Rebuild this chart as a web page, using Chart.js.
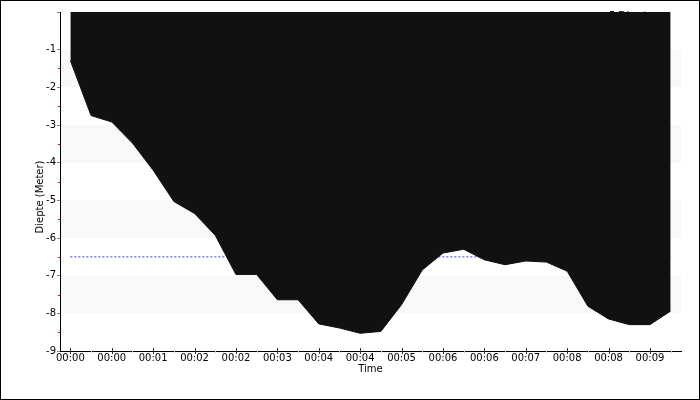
<!DOCTYPE html>
<html>
<head>
<meta charset="utf-8">
<script src="https://cdn.jsdelivr.net/npm/chart.js@4/dist/chart.umd.min.js"></script>
<style>
  html, body { margin: 0; padding: 0; background: #fff; }
  #wrap { width: 700px; height: 400px; }
</style>
</head>
<body>
<div id="wrap"><canvas id="depthChart" width="700" height="400"></canvas></div>
<script>
// samples every 20 s
const times = [
    '00:00:00', '00:00:20', '00:00:40', '00:01:00', '00:01:20', '00:01:40',
    '00:02:00', '00:02:20', '00:02:40', '00:03:00', '00:03:20', '00:03:40',
    '00:04:00', '00:04:20', '00:04:40', '00:05:00', '00:05:20', '00:05:40',
    '00:06:00', '00:06:20', '00:06:40', '00:07:00', '00:07:20', '00:07:40',
    '00:08:00', '00:08:20', '00:08:40', '00:09:00', '00:09:20', '00:09:40'
];
const depth = [
    -1.29, -2.75, -2.92, -3.48, -4.2, -5.03, -5.35, -5.93, -6.97, -6.97,
    -7.64, -7.64, -8.28, -8.39, -8.53, -8.48, -7.77, -6.85, -6.4, -6.3,
    -6.58, -6.71, -6.61, -6.64, -6.88, -7.81, -8.15, -8.3, -8.3, -7.94
];
const referenceDepth = -6.5;
const bandRanges = [[-2, -1], [-4, -3], [-6, -5], [-8, -7]];
const halfTicks = [-1.5, -2.5, -3.5, -4.5, -5.5, -6.5, -7.5, -8.5];

const FONT = 'DejaVu Sans';

// background bands, legend and y title behind the area
const backdrop = {
    id: 'backdrop',
    beforeDatasetsDraw(chart) {
        const { ctx, chartArea: a, scales: { y } } = chart;
        ctx.save();
        ctx.fillStyle = '#f8f8f8';
        bandRanges.forEach(([lo, hi]) => {
            const top = Math.round(y.getPixelForValue(hi));
            const bot = Math.round(y.getPixelForValue(lo));
            ctx.fillRect(a.left + 1, top, a.right - a.left - 1, bot - top);
        });
        // legend (mostly covered by the area)
        ctx.fillStyle = '#111';
        ctx.fillRect(610, 11, 4, 4);
        ctx.font = '11px ' + FONT;
        ctx.textBaseline = 'middle';
        ctx.fillStyle = '#000';
        ctx.fillText('Diepte', 618, 16);
        ctx.restore();
    },
    afterDraw(chart) {
        const { ctx, scales: { x, y } } = chart;
        ctx.save();
        // y title
        ctx.translate(40, 197);
        ctx.rotate(-Math.PI / 2);
        ctx.font = '10px ' + FONT;
        ctx.fillStyle = '#000';
        ctx.textAlign = 'center';
        ctx.textBaseline = 'middle';
        ctx.fillText('Diepte (Meter)', 0, 0);
        ctx.restore();

        ctx.save();
        ctx.lineWidth = 1;
        // red half ticks on y
        ctx.strokeStyle = '#ff0000';
        halfTicks.forEach(v => {
            const py = Math.round(y.getPixelForValue(v)) + 0.5;
            ctx.beginPath();
            ctx.moveTo(58, py);
            ctx.lineTo(60, py);
            ctx.stroke();
        });
        // x ticks
        const base = Math.round(x.top);
        times.forEach((t, i) => {
            const px = Math.round(x.getPixelForValue(i)) + 0.5;
            ctx.beginPath();
            if (i % 2 === 0) {
                ctx.strokeStyle = '#333';
                ctx.moveTo(px, base - 3);
                ctx.lineTo(px, base + 3);
            } else {
                ctx.strokeStyle = '#ccc';
                ctx.moveTo(px, base);
                ctx.lineTo(px, base + 2);
            }
            ctx.stroke();
        });
        // outer frame
        ctx.strokeStyle = '#000';
        ctx.strokeRect(0.5, 0.5, 699, 399);
        ctx.restore();
    }
};

const ctx = document.getElementById('depthChart').getContext('2d');
const depthChart = new Chart(ctx, {
    type: 'line',
    data: {
        labels: times,
        datasets: [{
            label: 'Diepte',
            data: depth,
            borderColor: '#111',
            backgroundColor: '#111',
            borderWidth: 1,
            pointRadius: 0,
            tension: 0,
            fill: 'end'
        }, {
            label: 'Referentie',
            data: times.map(() => referenceDepth),
            borderColor: '#3a3aff',
            borderWidth: 1,
            borderDash: [2, 2],
            pointRadius: 0,
            fill: false
        }]
    },
    options: {
        responsive: false,
        animation: false,
        layout: { padding: { top: 12, right: 19, bottom: 25, left: 0 } },
        plugins: {
            legend: { display: false },
            tooltip: { enabled: false }
        },
        scales: {
            x: {
                offset: true,
                grid: { display: false, drawTicks: false },
                border: { color: '#000' },
                ticks: {
                    autoSkip: false,
                    maxRotation: 0,
                    padding: 1,
                    color: '#000',
                    font: { family: FONT, size: 10 },
                    callback: function(value, index) {
                        return index % 2 === 0 ? times[index].slice(0, 5) : '';
                    }
                },
                title: {
                    display: true,
                    text: 'Time',
                    color: '#000',
                    padding: { top: -2, bottom: 0 },
                    font: { family: FONT, size: 10 }
                }
            },
            y: {
                min: -9,
                max: 0,
                grid: { drawOnChartArea: false, drawTicks: true, tickLength: 3, color: '#808080' },
                border: { color: '#000' },
                ticks: {
                    stepSize: 1,
                    padding: 1,
                    color: '#000',
                    font: { family: FONT, size: 10 },
                    callback: function(value) { return value === 0 ? '' : value; }
                },
                afterFit: function(scale) { scale.width = 60; }
            }
        }
    },
    plugins: [backdrop]
});
</script>
</body>
</html>
